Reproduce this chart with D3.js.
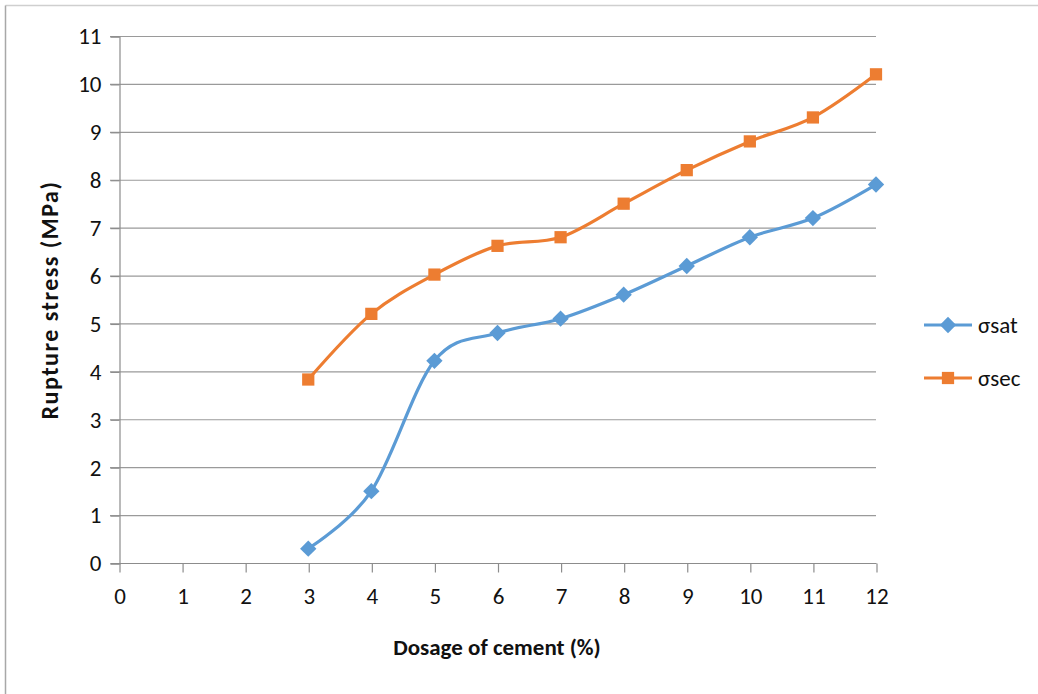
<!DOCTYPE html>
<html><head><meta charset="utf-8">
<script src="https://cdn.jsdelivr.net/npm/d3@7"></script>
<style>body{margin:0;background:#fff}svg{display:block}</style>
</head><body>
<svg id="c" width="1038" height="694"></svg>
<script>
const dosage = [3,4,5,6,7,8,9,10,11,12];
const sigmaSat = [0.3,1.5,4.22,4.8,5.1,5.6,6.2,6.8,7.2,7.9];
const sigmaSec = [3.83,5.2,6.02,6.62,6.8,7.5,8.2,8.8,9.3,10.2];
const xTicks = [0,1,2,3,4,5,6,7,8,9,10,11,12];
const yTicks = [0,1,2,3,4,5,6,7,8,9,10,11];
const seriesNames = ["σsat","σsec"];
const colors = ["#5B9BD5","#ED7D31"];

const svg = d3.select("#c");
const font = "Carlito, Lato, 'Open Sans', sans-serif";
// outer border (top and left visible)
svg.append("line").attr("x1",5.5).attr("x2",1038).attr("y1",5.5).attr("y2",5.5).attr("stroke","#cfcfcf").attr("stroke-width",1.5);
svg.append("line").attr("x1",5.5).attr("x2",5.5).attr("y1",5.5).attr("y2",694).attr("stroke","#a8a8a8").attr("stroke-width",1.5);

const x = d3.scaleLinear().domain([0,12]).range([119,876]);
const y = d3.scaleLinear().domain([0,11]).range([563,36]);

// gridlines
svg.append("g").selectAll("line").data(yTicks.filter(d=>d>0)).join("line")
  .attr("x1",110).attr("x2",876).attr("y1",d=>y(d)+0.5).attr("y2",d=>y(d)+0.5)
  .attr("stroke","#9a9a9a").attr("stroke-width",1.2);

// y axis
const ya = svg.append("g").attr("transform","translate(119.5,0.5)")
  .call(d3.axisLeft(y).tickValues(yTicks).tickSize(9).tickPadding(9));
ya.select(".domain").attr("stroke","#8c8c8c").attr("stroke-width",1.2);
ya.selectAll(".tick line").attr("stroke","#8c8c8c").attr("stroke-width",1.2);
ya.selectAll("text").attr("font-family",font).attr("font-size",23).attr("fill","#111");

// x axis
const xa = svg.append("g").attr("transform","translate(0.5,563.5)")
  .call(d3.axisBottom(x).tickValues(xTicks).tickSize(9).tickPadding(15));
xa.select(".domain").attr("stroke","#8c8c8c").attr("stroke-width",1.2).attr("d","M110,0H876");
xa.selectAll(".tick line").attr("stroke","#8c8c8c").attr("stroke-width",1.2);
xa.selectAll("text").attr("font-family",font).attr("font-size",23).attr("fill","#111");

// titles
svg.append("text").attr("x",497).attr("y",655).attr("text-anchor","middle")
  .attr("font-family",font).attr("font-weight","bold").attr("font-size",23).attr("fill","#111")
  .text("Dosage of cement (%)");
svg.append("text").attr("transform","translate(58,300) rotate(-90)").attr("text-anchor","middle")
  .attr("font-family",font).attr("font-weight","bold").attr("font-size",24).attr("letter-spacing",1.5).attr("fill","#111")
  .text("Rupture stress (MPa)");

const line = d3.line().x(d=>x(d[0])).y(d=>y(d[1])).curve(d3.curveCardinal.tension(0));
const series = [sigmaSat, sigmaSec];
series.forEach((vals,i)=>{
  const pts = dosage.map((d,j)=>[d,vals[j]]);
  svg.append("path").datum(pts).attr("d",line).attr("fill","none")
    .attr("stroke",colors[i]).attr("stroke-width",3.2).attr("stroke-linejoin","round");
  const sym = d3.symbol().type(i===0?d3.symbolDiamond2:d3.symbolSquare).size(i===0?170:150);
  svg.append("g").selectAll("path").data(pts).join("path")
    .attr("transform",d=>`translate(${x(d[0])},${y(d[1])})`)
    .attr("d",sym).attr("fill",colors[i]);
});

// legend
const legY = [325,378];
seriesNames.forEach((n,i)=>{
  const g = svg.append("g");
  g.append("line").attr("x1",924).attr("x2",972).attr("y1",legY[i]).attr("y2",legY[i])
    .attr("stroke",colors[i]).attr("stroke-width",3.2);
  g.append("path").attr("transform",`translate(948,${legY[i]})`)
    .attr("d",d3.symbol().type(i===0?d3.symbolDiamond2:d3.symbolSquare).size(i===0?170:150)).attr("fill",colors[i]);
  g.append("text").attr("x",978).attr("y",legY[i]+8).attr("font-family",font).attr("font-size",23).attr("fill","#111").text(n);
});
</script>
</body></html>
